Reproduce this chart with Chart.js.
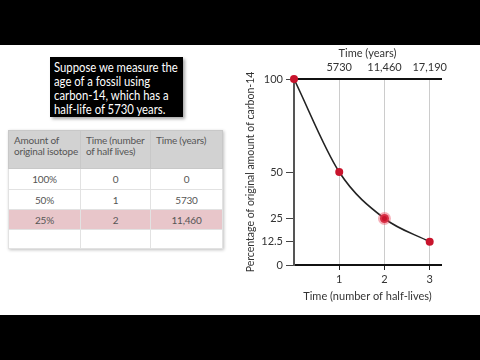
<!DOCTYPE html>
<html><head><meta charset="utf-8">
<script src="https://cdn.jsdelivr.net/npm/chart.js@4"></script>
<style>
html,body{margin:0;padding:0;width:480px;height:360px;background:#000;overflow:hidden;font-family:Lato,'Open Sans',sans-serif;}
#stage{position:absolute;left:0;top:45px;width:480px;height:270px;background:#fff;}
#box{position:absolute;left:50px;top:57px;width:133px;height:60px;background:#000;color:#fff;box-shadow:2px 2px 3px rgba(0,0,0,0.35);font-size:13px;line-height:14px;padding:3px 0 0 4px;box-sizing:border-box;white-space:nowrap;overflow:hidden;}
#box span{display:inline-block;transform:scaleX(0.87);transform-origin:0 0;}
#tbl{position:absolute;left:8px;top:130px;width:214px;border-collapse:collapse;font-size:10px;color:#555;box-shadow:1px 1px 3px rgba(0,0,0,0.25);table-layout:fixed;letter-spacing:-0.2px;}
#tbl td{border:1px solid #e2e2e2;padding:0;text-align:center;vertical-align:middle;overflow:hidden;white-space:nowrap;}
#tbl tr.hd td{background:#d2d2d2;text-align:left;vertical-align:top;padding:4px 0 0 5px;line-height:11px;border-color:#c8c8c8;}
#tbl tr.hl td{background:#e8c6ca;}
canvas{position:absolute;left:0;top:0;}
</style></head>
<body>
<div id="stage"></div>
<div id="box"><span id="boxtxt"></span></div>
<table id="tbl"></table>
<canvas id="c" width="480" height="360"></canvas>
<script>
// ---- data ----
const halfLives = [0, 1, 2, 3];
const percentRemaining = [100, 50, 25, 12.5];
const bottomTicks = [1, 2, 3];
const yearLabels = ['5730', '11,460', '17,190'];
const yTicks = [0, 12.5, 25, 50, 100];
const boxLines = ['Suppose we measure the', 'age of a fossil using', 'carbon-14, which has a', 'half-life of 5730 years.'];
const tableHeaders = ['Amount of\noriginal isotope', 'Time (number\nof half lives)', 'Time (years)'];
const tableAmounts = ['100%', '50%', '25%', ''];
const tableHalfLives = ['0', '1', '2', ''];
const tableYears = ['0', '5730', '11,460', ''];
const highlightRow = 2;

// ---- text box ----
document.getElementById('boxtxt').innerHTML = boxLines.join('<br>');

// ---- table ----
const colW = [72, 70, 72];
const rowH = [38, 21, 20, 20, 19];
const tbl = document.getElementById('tbl');
let html = '<colgroup>' + colW.map(w => `<col style="width:${w}px">`).join('') + '</colgroup>';
html += `<tr class="hd" style="height:${rowH[0]}px">` + tableHeaders.map(h => `<td>${h.replace('\n', '<br>')}</td>`).join('') + '</tr>';
tableAmounts.forEach((a, i) => {
  html += `<tr${i === highlightRow ? ' class="hl"' : ''} style="height:${rowH[i + 1]}px">` +
    [a, tableHalfLives[i], tableYears[i]].map(v => `<td>${v}</td>`).join('') + '</tr>';
});
tbl.innerHTML = html;

// ---- chart ----
const FONT = "Lato, 'Open Sans', sans-serif";
Chart.defaults.font.family = FONT;
new Chart(document.getElementById('c'), {
  type: 'scatter',
  data: {
    datasets: [{
      data: halfLives.map((x, i) => ({ x: x, y: percentRemaining[i] })),
      showLine: true,
      borderColor: '#222',
      borderWidth: 1.6,
      cubicInterpolationMode: 'monotone',
      pointBackgroundColor: '#c8142c',
      pointBorderColor: ['#c8142c', '#c8142c', 'rgba(235,80,100,0.45)', '#c8142c'],
      pointBorderWidth: [0, 0, 4, 0],
      pointRadius: [4, 4, 4.5, 4],
      clip: false
    }]
  },
  options: {
    responsive: false,
    animation: false,
    plugins: { legend: { display: false }, tooltip: { enabled: false } },
    layout: { padding: { left: 240, right: 39, top: 47, bottom: 50 } },
    scales: {
      x: {
        type: 'linear', position: 'bottom', min: 0, max: 3.25,
        afterBuildTicks: s => { s.ticks = bottomTicks.map(v => ({ value: v })); },
        afterFit: s => { s.height = 45; },
        grid: { color: '#cccccc', lineWidth: 1, tickColor: '#222', tickLength: 5 },
        border: { color: '#111', width: 2 },
        ticks: { color: '#333', font: { size: 11 }, padding: 3 },
        title: { display: true, text: 'Time (number of half-lives)', color: '#333', font: { size: 11 }, padding: { top: 2, bottom: 7 } }
      },
      x2: {
        type: 'linear', axis: 'x', position: 'top', min: 0, max: 3.25,
        afterBuildTicks: s => { s.ticks = bottomTicks.map(v => ({ value: v })); },
        afterFit: s => { s.height = 32; },
        grid: { drawOnChartArea: false, drawTicks: false },
        border: { color: '#111', width: 2 },
        ticks: { color: '#333', font: { size: 11 }, padding: 5, callback: v => yearLabels[bottomTicks.indexOf(v)] },
        title: { display: true, text: 'Time (years)', color: '#333', font: { size: 11 }, padding: { top: 0, bottom: 0 } }
      },
      y: {
        min: 0, max: 100,
        afterBuildTicks: s => { s.ticks = yTicks.map(v => ({ value: v })); },
        afterFit: s => { s.width = 54; },
        grid: { drawOnChartArea: false, tickColor: '#444', tickLength: 8 },
        border: { color: '#555', width: 2 },
        ticks: { color: '#333', font: { size: 11 }, padding: 3, callback: v => String(v) },
        title: { display: true, text: 'Percentage of original amount of carbon-14', color: '#333', font: { size: 10.5 }, padding: { top: 4, bottom: 0 } }
      }
    }
  }
});
</script>
</body></html>
